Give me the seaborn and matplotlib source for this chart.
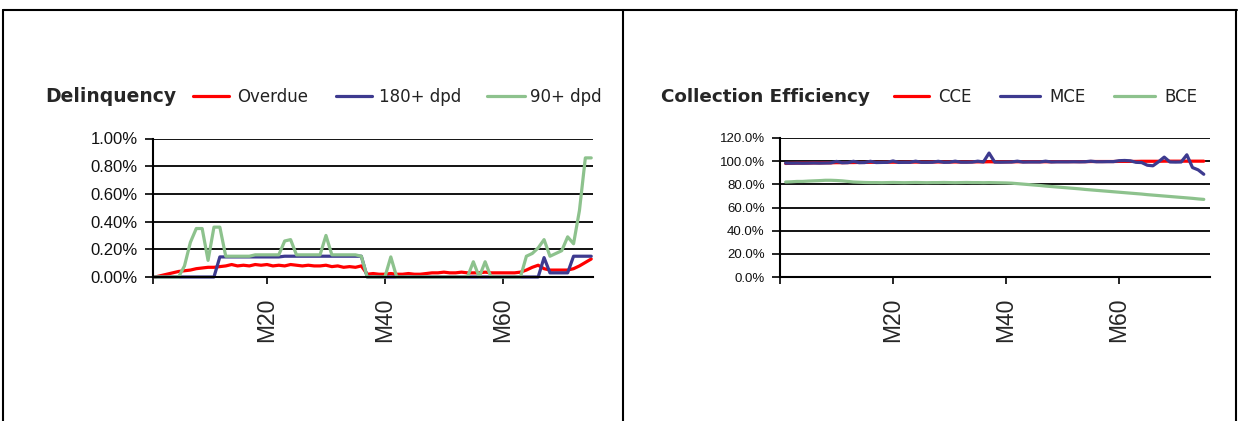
# Delinquency and collection efficiency by month on book

import pandas as pd
import seaborn as sns
from matplotlib import pyplot as plt
from matplotlib.lines import Line2D
from matplotlib.ticker import FuncFormatter

# Data
months = list(range(1, 76))

overdue = [0.00, 0.01, 0.02, 0.03, 0.04, 0.045, 0.05, 0.06, 0.065, 0.07,
           0.07, 0.075, 0.08, 0.09, 0.08, 0.085, 0.08, 0.09, 0.085, 0.09,
           0.08, 0.085, 0.08, 0.09, 0.085, 0.08, 0.085, 0.08, 0.08, 0.085,
           0.075, 0.08, 0.07, 0.075, 0.07, 0.08, 0.02, 0.025, 0.02, 0.02,
           0.025, 0.02, 0.02, 0.025, 0.02, 0.02, 0.025, 0.03, 0.03, 0.035,
           0.03, 0.03, 0.035, 0.03, 0.03, 0.03, 0.035, 0.03, 0.03, 0.03,
           0.03, 0.03, 0.035, 0.05, 0.07, 0.085, 0.06, 0.05, 0.05, 0.05,
           0.05, 0.06, 0.08, 0.105, 0.13]

dpd180 = [0, 0, 0, 0, 0, 0, 0, 0, 0, 0,
          0, 0.145, 0.145, 0.145, 0.145, 0.145, 0.145, 0.145, 0.145, 0.145,
          0.145, 0.145, 0.15, 0.15, 0.15, 0.15, 0.15, 0.15, 0.15, 0.15,
          0.15, 0.15, 0.15, 0.15, 0.15, 0.15, 0, 0, 0, 0,
          0, 0, 0, 0, 0, 0, 0, 0, 0, 0,
          0, 0, 0, 0, 0, 0, 0, 0, 0, 0,
          0, 0, 0, 0, 0, 0, 0.14, 0.03, 0.03, 0.03,
          0.03, 0.15, 0.15, 0.15, 0.15]

dpd90 = [0, 0, 0, 0, 0, 0.08, 0.25, 0.35, 0.35, 0.12,
         0.36, 0.36, 0.15, 0.15, 0.15, 0.15, 0.15, 0.16, 0.16, 0.16,
         0.16, 0.16, 0.26, 0.27, 0.16, 0.16, 0.16, 0.16, 0.16, 0.30,
         0.16, 0.16, 0.16, 0.16, 0.16, 0.15, 0, 0, 0, 0,
         0.145, 0, 0, 0, 0, 0, 0, 0, 0, 0,
         0, 0, 0, 0, 0.11, 0, 0.11, 0, 0, 0,
         0, 0, 0, 0.15, 0.17, 0.21, 0.27, 0.15, 0.17, 0.19,
         0.29, 0.24, 0.48, 0.86, 0.86]

cce = [98.0, 98.2, 98.3, 98.4, 98.4, 98.5, 98.5, 98.6, 98.6, 98.7,
       98.7, 98.8, 98.8, 98.9, 98.9, 99.0, 99.0, 99.0, 99.1, 99.1,
       99.1, 99.1, 99.2, 99.2, 99.2, 99.2, 99.3, 99.3, 99.3, 99.3,
       99.3, 99.3, 99.3, 99.4, 99.4, 99.4, 99.5, 99.4, 99.4, 99.4,
       99.4, 99.5, 99.5, 99.5, 99.5, 99.5, 99.5, 99.5, 99.6, 99.6,
       99.6, 99.6, 99.6, 99.6, 99.7, 99.7, 99.7, 99.7, 99.7, 99.8,
       99.8, 99.8, 99.8, 99.9, 99.9, 99.9, 99.9, 100.0, 100.0, 100.0,
       100.0, 100.0, 100.0, 100.0, 100.0]

mce = [98.3, 98.2, 98.3, 98.2, 98.3, 98.4, 98.3, 98.4, 98.5, 99.8,
       98.6, 98.7, 99.9, 98.7, 98.8, 99.9, 98.8, 98.9, 99.0, 100.2,
       98.9, 99.0, 99.0, 100.0, 99.0, 99.0, 99.1, 99.9, 99.0, 99.1,
       100.0, 99.1, 99.1, 99.2, 100.0, 99.3, 107.0, 99.2, 99.1, 99.2,
       99.3, 100.0, 99.2, 99.3, 99.3, 99.3, 100.0, 99.3, 99.4, 99.4,
       99.4, 99.5, 99.4, 99.5, 100.0, 99.5, 99.5, 99.6, 99.6, 100.4,
       100.6, 100.3, 99.0, 98.8, 96.5, 96.0, 99.5, 103.5, 99.3, 99.2,
       99.3, 105.5, 94.5, 92.5, 88.7]

bce = [82.0, 82.2, 82.5, 82.5, 82.8, 83.0, 83.2, 83.5, 83.5, 83.3,
       83.0, 82.5, 82.0, 81.8, 81.6, 81.5, 81.5, 81.4, 81.5, 81.6,
       81.5, 81.4, 81.5, 81.6, 81.5, 81.4, 81.5, 81.5, 81.6, 81.5,
       81.4, 81.5, 81.6, 81.5, 81.5, 81.4, 81.5, 81.4, 81.3, 81.2,
       81.0, 80.6, 80.2, 79.8, 79.4, 79.0, 78.5, 78.1, 77.7, 77.3,
       76.9, 76.5, 76.1, 75.6, 75.2, 74.8, 74.4, 74.0, 73.6, 73.2,
       72.8, 72.4, 72.0, 71.6, 71.1, 70.7, 70.3, 69.9, 69.5, 69.1,
       68.7, 68.3, 67.9, 67.4, 67.0]

tick_months = [20, 40, 60]
tick_labels = ['M20', 'M40', 'M60']
delinq_ticks = [0, 0.2, 0.4, 0.6, 0.8, 1.0]
eff_ticks = [0, 20, 40, 60, 80, 100, 120]

RED = '#ff0000'
BLUE = '#3d3a8f'
GREEN = '#8dc28d'
W, H = 1240, 421

sns.set_style('white')
plt.rcParams['font.family'] = ['DejaVu Sans']

fig = plt.figure(figsize=(W / 100, H / 100), dpi=100)


def fx(x):
    return x / W


def fy(y):
    return 1 - y / H


ax1 = fig.add_axes([fx(153), fy(277), (593 - 153) / W, (277 - 138.5) / H])
ax2 = fig.add_axes([fx(780), fy(277), (1210 - 780) / W, (277 - 138) / H])

df1 = pd.DataFrame({'month': months, 'Overdue': overdue,
                    '180+ dpd': dpd180, '90+ dpd': dpd90})
df2 = pd.DataFrame({'month': months, 'CCE': cce, 'MCE': mce, 'BCE': bce})

for col, c in zip(['Overdue', '180+ dpd', '90+ dpd'], [RED, BLUE, GREEN]):
    sns.lineplot(data=df1, x='month', y=col, ax=ax1, color=c, lw=2.3, clip_on=False)
for col, c in zip(['CCE', 'MCE', 'BCE'], [RED, BLUE, GREEN]):
    sns.lineplot(data=df2, x='month', y=col, ax=ax2, color=c, lw=2.3, clip_on=False)


def style_axis(ax, xlim, ylim, yticks, fmt, ysize):
    ax.set_xlim(*xlim)
    ax.set_ylim(*ylim)
    ax.set_yticks(yticks)
    ax.yaxis.set_major_formatter(FuncFormatter(fmt))
    ax.set_xticks(tick_months)
    ax.set_xticklabels(tick_labels, rotation=90, fontsize=16.5, fontfamily='Liberation Sans')
    ax.set_xticks([xlim[0]], minor=True)
    ax.tick_params(axis='x', which='both', bottom=True, direction='out',
                   length=5, width=1.2, pad=10, color='black')
    ax.tick_params(axis='y', left=True, direction='out', length=6, width=1.2,
                   pad=5, labelsize=ysize, color='black', labelcolor='#111111')
    for lab in ax.get_yticklabels():
        lab.set_fontfamily('Liberation Sans')
    ax.grid(axis='y', color='black', lw=1.3)
    ax.grid(axis='x', visible=False)
    ax.set_axisbelow(True)
    for s in ['top', 'right']:
        ax.spines[s].set_visible(False)
    for s in ['left', 'bottom']:
        ax.spines[s].set_color('black')
        ax.spines[s].set_linewidth(1.5)
    ax.set_xlabel('')
    ax.set_ylabel('')


style_axis(ax1, (0.66, 75.3), (0, 1.0), delinq_ticks,
           lambda v, p: f'{v:.2f}%', 12)
style_axis(ax2, (0.0, 76.1), (0, 120), eff_ticks,
           lambda v, p: f'{v:.1f}%', 9.5)

# Table borders
for xs, ys in [([3, 1237], [10, 10]), ([3, 3], [10, 421]),
               ([623, 623], [10, 421]), ([1236, 1236], [10, 421])]:
    fig.add_artist(Line2D([fx(x) for x in xs], [fy(y) for y in ys],
                          transform=fig.transFigure, color='black', lw=1.5))

# Titles and legends
fig.text(fx(45), fy(101.5), 'Delinquency', fontsize=13.5, fontweight='bold',
         ha='left', va='baseline')
fig.text(fx(661), fy(101.5), 'Collection Efficiency', fontsize=13.2,
         fontweight='bold', ha='left', va='baseline')

legend_items = [
    (193, 229, 237, 'Overdue', RED),
    (336, 372, 379, '180+ dpd', BLUE),
    (487, 525, 530, '90+ dpd', GREEN),
    (894, 929, 938, 'CCE', RED),
    (1000, 1040, 1049, 'MCE', BLUE),
    (1114, 1155, 1164, 'BCE', GREEN),
]
for x0, x1, tx, label, c in legend_items:
    fig.add_artist(Line2D([fx(x0), fx(x1)], [fy(96), fy(96)],
                          transform=fig.transFigure, color=c, lw=2.3))
    fig.text(fx(tx), fy(101.5), label, fontsize=12, ha='left', va='baseline',
             color='#222222')

plt.savefig('out.png', dpi=100)
